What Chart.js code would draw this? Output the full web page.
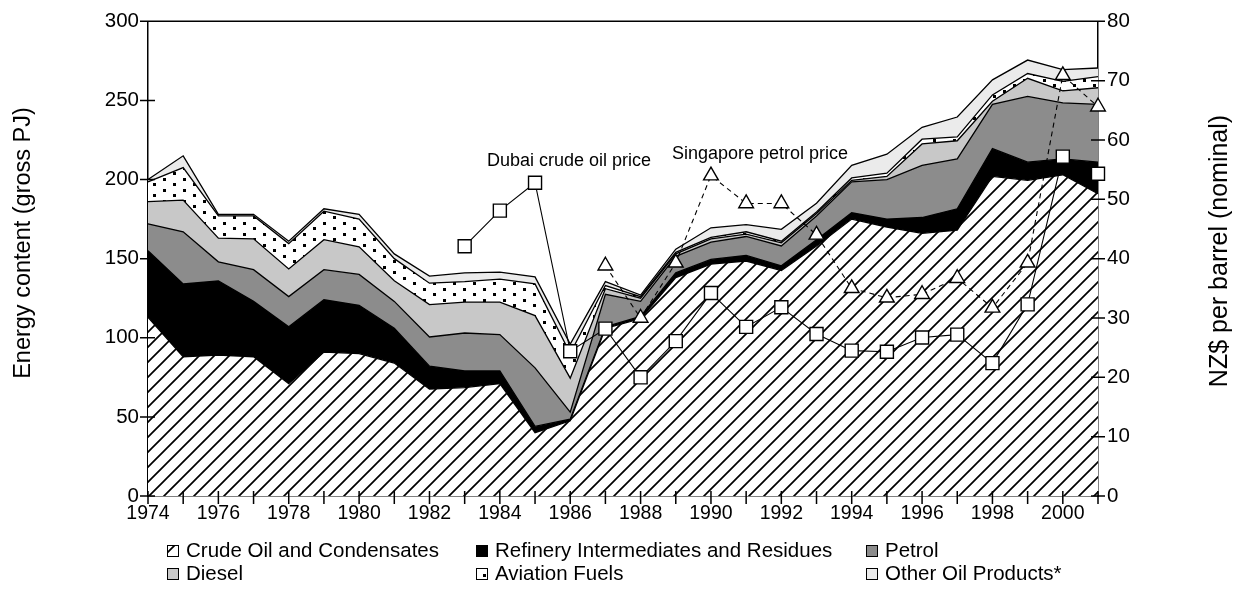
<!DOCTYPE html>
<html>
<head>
<meta charset="utf-8">
<script src="https://cdn.jsdelivr.net/npm/chart.js@4.4.0/dist/chart.umd.min.js"></script>
<style>
  html, body { margin: 0; padding: 0; background: #fff; }
  #wrap { width: 1236px; height: 592px; }
</style>
</head>
<body>
<div id="wrap"><canvas id="oilChart" width="1236" height="592"></canvas></div>
<script>
const years = ['1974','1975','1976','1977','1978','1979','1980','1981','1982','1983','1984','1985','1986','1987',
               '1988','1989','1990','1991','1992','1993','1994','1995','1996','1997','1998','1999','2000','2001'];

// energy content, gross PJ (stacked)
const crudeOil   = [113, 88, 89, 88, 71, 91, 90, 84, 67.5, 68.5, 71, 40, 47.5, 106, 112, 138, 146.5, 148.5, 142.5, 158, 175, 170, 166, 168, 202, 199.5, 203, 191];
const refinery   = [42, 46, 47, 35, 36, 33, 30.5, 22, 14.5, 10.5, 8, 4, 1, 1, 1.5, 3, 3, 3.5, 3, 4, 4, 5, 10, 13.5, 17.5, 11.5, 10, 20];
const petrol     = [17, 33, 12, 20, 19, 19, 19.5, 17, 18.5, 24, 23, 37, 4.5, 20.5, 9.5, 10.5, 11, 12, 12.5, 15, 19.5, 25, 33, 31.5, 28, 41.5, 35.5, 36.5];
const diesel     = [14, 20, 15, 19.5, 17.5, 19, 17.5, 13, 20.5, 19.5, 20.5, 33, 21.5, 3.5, 2, 1.5, 2, 1.5, 2, 1.5, 1, 2, 13.5, 11.5, 2, 11.5, 7.5, 10.5];
const aviation   = [12.5, 20.5, 14, 14.5, 16, 18, 17.5, 14, 13.5, 13, 14.5, 20, 15.5, 2, 1, 1, 1, 1.5, 1, 1, 1.5, 2, 3, 2.5, 4, 3, 6, 7];
const otherOil   = [1.5, 7.5, 1, 1, 1.5, 1.5, 3, 3, 4.5, 5.5, 4.5, 4.5, 6, 2.5, 1, 2, 6, 4.5, 7.5, 5.5, 8, 12, 7.5, 12.5, 9.5, 8.5, 7.5, 5.5];

// prices, NZ$ per barrel (nominal)
const dubaiPrice = [null, null, null, null, null, null, null, null, null, 42.1, 48.1, 52.8, 24.4, 28.2, 20, 26.1, 34.2, 28.5, 31.8, 27.3, 24.5, 24.3, 26.7, 27.2, 22.4, 32.3, 57.2, 54.3];
const singaporePrice = [null, null, null, null, null, null, null, null, null, null, null, null, null, 38.8, 30, 39.3, 54, 49.3, 49.3, 44, 35, 33.4, 34, 36.7, 31.7, 39.3, 70.9, 65.6];

const leftTicks = [0, 50, 100, 150, 200, 250, 300];
const rightTicks = [0, 10, 20, 30, 40, 50, 60, 70, 80];

const FONT = '"Liberation Sans", Arial, sans-serif';

function makeHatch() {
    const s = 15;
    const c = document.createElement('canvas');
    c.width = s; c.height = s;
    const g = c.getContext('2d');
    g.fillStyle = '#fff';
    g.fillRect(0, 0, s, s);
    g.strokeStyle = '#000';
    g.lineWidth = 1.7;
    g.beginPath();
    g.moveTo(-1, s + 1); g.lineTo(s + 1, -1);
    g.moveTo(-2, 2); g.lineTo(2, -2);
    g.moveTo(s - 2, s + 2); g.lineTo(s + 2, s - 2);
    g.stroke();
    return g.createPattern(c, 'repeat');
}

function makeDots() {
    const c = document.createElement('canvas');
    c.width = 20; c.height = 11;
    const g = c.getContext('2d');
    g.fillStyle = '#fff';
    g.fillRect(0, 0, 20, 11);
    g.fillStyle = '#000';
    g.fillRect(3, 2, 3, 3);
    g.fillRect(13, 7, 3, 3);
    return g.createPattern(c, 'repeat');
}

const hatch = makeHatch();
const dots = makeDots();

function area(label, data, fill, bg) {
    return {
        label: label, data: data, fill: fill, backgroundColor: bg,
        borderColor: '#000', borderWidth: 1.3, pointRadius: 0, tension: 0,
        yAxisID: 'y', order: 2
    };
}

const datasets = [
    area('Crude Oil and Condensates', crudeOil, 'origin', hatch),
    area('Refinery Intermediates and Residues', refinery, '-1', '#000'),
    area('Petrol', petrol, '-1', '#8c8c8c'),
    area('Diesel', diesel, '-1', '#c8c8c8'),
    area('Aviation Fuels', aviation, '-1', dots),
    area('Other Oil Products*', otherOil, '-1', '#ebebeb'),
    {
        label: 'Dubai crude oil price', data: dubaiPrice, yAxisID: 'y2', fill: false, order: 0,
        borderColor: '#000', borderWidth: 1.1, pointStyle: 'rect', pointRadius: 9.2,
        pointBackgroundColor: '#fff', pointBorderColor: '#000', pointBorderWidth: 1.4, clip: false
    },
    {
        label: 'Singapore petrol price', data: singaporePrice, yAxisID: 'y2', fill: false, order: 1,
        borderColor: '#000', borderWidth: 1.1, borderDash: [5, 4], pointStyle: 'triangle', pointRadius: 8.5,
        pointBackgroundColor: '#fff', pointBorderColor: '#000', pointBorderWidth: 1.4, clip: false
    }
];

const legendCols = [167, 476, 866];
const legendRows = [551, 574];

const extras = {
    id: 'extras',
    afterDraw(chart) {
        const ctx = chart.ctx;
        const a = chart.chartArea;
        const x = chart.scales.x, y = chart.scales.y, y2 = chart.scales.y2;
        ctx.save();
        ctx.strokeStyle = '#000';
        ctx.lineWidth = 1.5;
        ctx.beginPath();
        ctx.moveTo(a.left, a.top); ctx.lineTo(a.right, a.top);
        x.ticks.forEach((t, i) => {
            const px = x.getPixelForTick(i);
            ctx.moveTo(px, a.bottom - 5); ctx.lineTo(px, a.bottom + 8);
        });
        y.ticks.forEach((t, i) => {
            const py = y.getPixelForTick(i);
            ctx.moveTo(a.left - 8, py); ctx.lineTo(a.left + 7, py);
        });
        y2.ticks.forEach((t, i) => {
            const py = y2.getPixelForTick(i);
            ctx.moveTo(a.right - 7, py); ctx.lineTo(a.right + 7, py);
        });
        ctx.stroke();

        ctx.fillStyle = '#000';
        // axis titles
        ctx.textAlign = 'center';
        ctx.textBaseline = 'middle';
        ctx.save();
        ctx.font = '23.5px ' + FONT;
        ctx.translate(24, 243);
        ctx.rotate(-Math.PI / 2);
        ctx.fillText('Energy content (gross PJ)', 0, 0);
        ctx.restore();
        ctx.save();
        ctx.font = '25px ' + FONT;
        ctx.translate(1220, 251);
        ctx.rotate(-Math.PI / 2);
        ctx.fillText('NZ$ per barrel (nominal)', 0, 0);
        ctx.restore();

        // series annotations
        ctx.font = '18px ' + FONT;
        ctx.fillText('Dubai crude oil price', x.getPixelForValue(11) + 34, y2.getPixelForValue(56.5));
        ctx.fillText('Singapore petrol price', x.getPixelForValue(16) + 49, y2.getPixelForValue(57.7));

        // legend
        ctx.font = '20.5px ' + FONT;
        ctx.textAlign = 'left';
        chart.data.datasets.slice(0, 6).forEach((ds, i) => {
            const bx = legendCols[i % 3];
            const by = legendRows[Math.floor(i / 3)];
            ctx.fillStyle = ds.backgroundColor;
            ctx.fillRect(bx, by - 6, 12, 12);
            ctx.lineWidth = 1;
            ctx.strokeStyle = '#000';
            ctx.strokeRect(bx + 0.5, by - 5.5, 11, 11);
            ctx.fillStyle = '#000';
            ctx.fillText(ds.label, bx + 19, by);
        });
        ctx.restore();
    }
};

new Chart(document.getElementById('oilChart'), {
    type: 'line',
    data: { labels: years, datasets: datasets },
    options: {
        responsive: false,
        animation: false,
        layout: { padding: { top: 16, left: 0, right: 0, bottom: 0 } },
        plugins: { legend: { display: false }, tooltip: { enabled: false } },
        scales: {
            x: {
                offset: false,
                grid: { display: false, drawTicks: false },
                border: { display: true, color: '#000', width: 1.5 },
                ticks: {
                    autoSkip: false, maxRotation: 0, color: '#000', padding: 6,
                    font: { family: FONT, size: 19.5 },
                    callback: function(v, i) { return i % 2 === 0 ? years[i] : ''; }
                },
                afterFit: s => { s.height = 96; }
            },
            y: {
                stacked: true, min: 0, max: 300, position: 'left',
                grid: { display: false, drawTicks: false },
                border: { display: true, color: '#000', width: 1.5 },
                afterBuildTicks: s => { s.ticks = leftTicks.map(v => ({ value: v })); },
                ticks: { color: '#000', padding: 9, font: { family: FONT, size: 20.5 } },
                afterFit: s => { s.width = 148; }
            },
            y2: {
                min: 0, max: 80, position: 'right',
                grid: { display: false, drawTicks: false },
                border: { display: true, color: '#000', width: 1.5 },
                afterBuildTicks: s => { s.ticks = rightTicks.map(v => ({ value: v })); },
                ticks: { color: '#000', padding: 9, font: { family: FONT, size: 20.5 } },
                afterFit: s => { s.width = 138; }
            }
        }
    },
    plugins: [extras]
});
</script>
</body>
</html>
